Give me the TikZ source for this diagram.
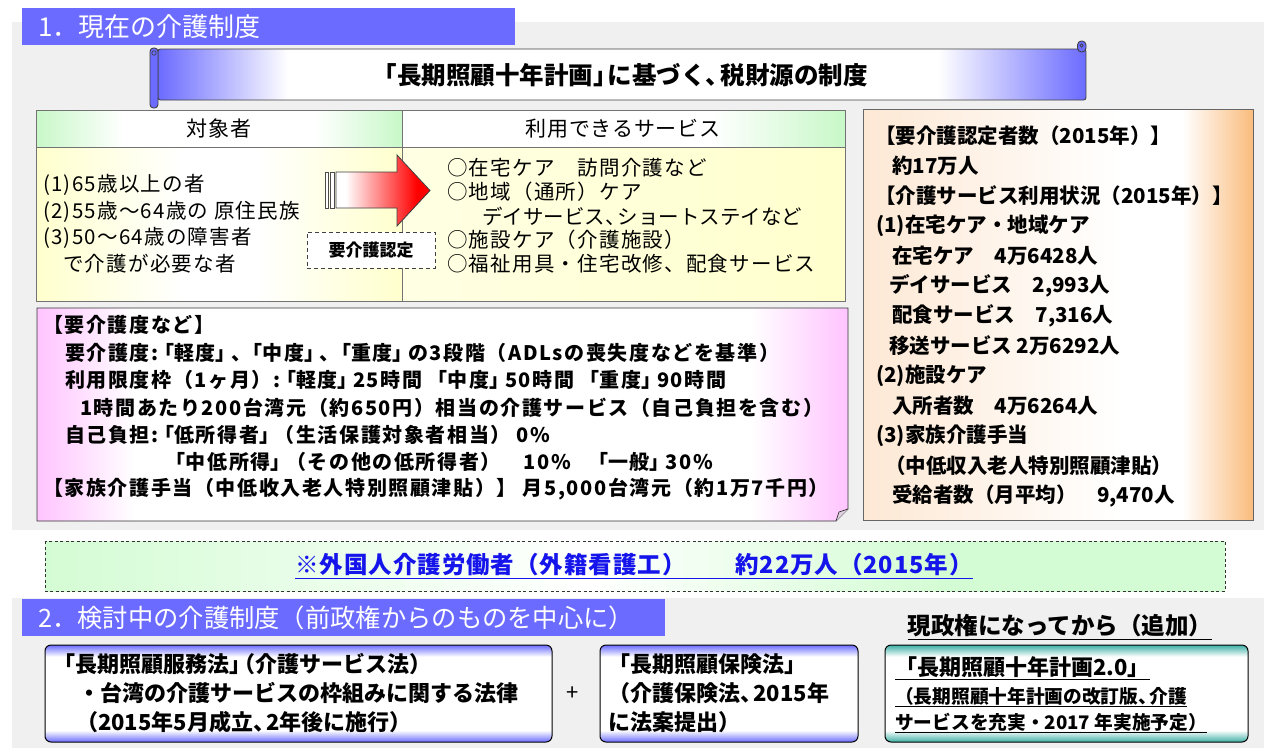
\documentclass[tikz,border=0pt]{standalone}
\usepackage{fontspec}
\setmainfont{Noto Sans CJK JP}
\newcommand\kL{\makebox[0.6em][r]{「}}
\newcommand\kR{\makebox[0.6em][l]{」}}
\newcommand\tk{\makebox[0.6em][l]{、}}
\newcommand\nk{\makebox[0.6em][c]{・}}
\newcommand\pkL{\makebox[0.78em][r]{「}}
\newcommand\pkR{\makebox[0.78em][l]{」}}
\newcommand\ptk{\makebox[0.78em][l]{、}}
\newcommand\kP{\makebox[0.6em][r]{（}}
\definecolor{hdrblue}{RGB}{107,107,255}
\definecolor{bggray}{RGB}{240,240,240}
\definecolor{hgreen}{RGB}{200,248,200}
\definecolor{byellow}{RGB}{255,255,205}
\definecolor{pinkc}{RGB}{255,196,255}
\definecolor{orng}{RGB}{250,188,125}
\definecolor{peach}{RGB}{253,232,212}
\definecolor{lgreen}{RGB}{212,252,212}
\definecolor{txtblue}{RGB}{20,20,235}
\definecolor{tealc}{RGB}{60,175,165}
\pgfdeclarehorizontalshading{scrollshade}{100bp}{color(0bp)=(hdrblue); color(25bp)=(hdrblue); color(32bp)=(white); color(67bp)=(white); color(75bp)=(hdrblue); color(100bp)=(hdrblue)}
\pgfdeclarehorizontalshading{greenhdr}{100bp}{color(0bp)=(hgreen); color(25bp)=(hgreen); color(37bp)=(white); color(63bp)=(white); color(75bp)=(hgreen); color(100bp)=(hgreen)}
\pgfdeclarehorizontalshading{greenhdrb}{100bp}{color(0bp)=(white); color(25bp)=(white); color(60bp)=(white); color(75bp)=(hgreen); color(100bp)=(hgreen)}
\pgfdeclarehorizontalshading{yelshade}{100bp}{color(0bp)=(byellow); color(25bp)=(byellow); color(45bp)=(white); color(55bp)=(white); color(75bp)=(byellow); color(100bp)=(byellow)}
\pgfdeclarehorizontalshading{pinkshade}{100bp}{color(0bp)=(pinkc); color(25bp)=(pinkc); color(31bp)=(white); color(69bp)=(white); color(75bp)=(pinkc); color(100bp)=(pinkc)}
\pgfdeclarehorizontalshading{orangeshade}{100bp}{color(0bp)=(peach); color(25bp)=(peach); color(58bp)=(white); color(66bp)=(white); color(75bp)=(orng); color(100bp)=(orng)}
\pgfdeclarehorizontalshading{greenbox}{100bp}{color(0bp)=(lgreen); color(25bp)=(lgreen); color(48bp)=(white); color(63bp)=(lgreen); color(75bp)=(lgreen); color(100bp)=(lgreen)}
\pgfdeclarehorizontalshading{arrowshade}{100bp}{color(0bp)=(white); color(25bp)=(white); color(30bp)=(white); color(68bp)=(red); color(75bp)=(red); color(100bp)=(red)}
\pgfdeclareverticalshading{boxblue}{100bp}{color(0bp)=(hdrblue); color(25bp)=(hdrblue); color(31bp)=(white); color(69bp)=(white); color(75bp)=(hdrblue); color(100bp)=(hdrblue)}
\pgfdeclareverticalshading{boxteal}{100bp}{color(0bp)=(tealc); color(25bp)=(tealc); color(31bp)=(white); color(69bp)=(white); color(75bp)=(tealc); color(100bp)=(tealc)}
\begin{document}
\begin{tikzpicture}[x=1pt,y=-1pt,
  hdrbox/.style={anchor=north west, fill=hdrblue, text=white, inner xsep=16pt, inner ysep=0pt, minimum height=37pt, align=left},
  lst/.style={anchor=west, inner sep=0pt, font=\fontsize{20.5}{24}\selectfont\addfontfeatures{LetterSpace=6}},
  lstn/.style={anchor=west, inner sep=0pt, font=\fontsize{20.5}{24}\selectfont},
  pk/.style={anchor=west, inner sep=0pt, font=\bfseries\fontsize{20}{24}\selectfont\addfontfeatures{LetterSpace=8}},
  orl/.style={anchor=west, inner sep=0pt, font=\bfseries\fontsize{20.5}{24}\selectfont},
  bx/.style={anchor=west, inner sep=0pt, font=\bfseries\fontsize{22}{24}\selectfont},
  bxc/.style={anchor=west, inner sep=0pt, font=\bfseries\fontsize{18.7}{22}\selectfont},
  thd/.style={inner sep=0pt, font=\fontsize{21}{24}\selectfont\addfontfeatures{LetterSpace=4}},
  edge75/.style={draw=black!75, line width=0.9pt}]
\useasboundingbox (0,0) rectangle (1264,748);
\fill[white] (0,0) rectangle (1264,748);
\fill[bggray] (12,22) rectangle (1264,530);
\fill[bggray] (12,598) rectangle (1264,748);
% section 1 header
\node[hdrbox, text width=461pt, font=\fontsize{26}{28}\selectfont] (h1) at (22,8) {1．現在の介護制度};
% scroll banner
\path[shade, shading=scrollshade, edge75, rounded corners=2.5pt] (158,49) rectangle (1086,100);
\draw[fill=hdrblue, edge75, rounded corners=4pt] (1077.5,41) rectangle (1086,52);
\draw[edge75, line width=0.7pt] (1081.5,45.5) circle (1.6);
\draw[fill=hdrblue, edge75, rounded corners=3.5pt] (150,48) rectangle (158,108);
\draw[edge75, line width=0.7pt] (154,53) circle (2.2);
\node[font=\bfseries\fontsize{24.5}{26}\selectfont, inner sep=0pt] (ban) at (625,75) {\kL 長期照顧十年計画\kR に基づく\tk 税財源の制度};
% table
\path[shade, shading=greenhdr] (36,110) rectangle (402,147);
\path[shade, shading=greenhdrb] (402,110) rectangle (845,147);
\path[shade, shading=yelshade] (36,147) rectangle (402,301);
\path[shade, left color=byellow!55!white, right color=byellow] (402,147) rectangle (845,301);
\draw[black!55, line width=0.9pt] (36,110) rectangle (845,301);
\draw[black!55, line width=0.9pt] (36,147) -- (845,147);
\draw[black!55, line width=0.9pt] (402,110) -- (402,301);
\node[thd] (th1) at (219,129) {対象者};
\node[thd] (th2) at (623,129) {利用できるサービス};
\foreach \n/\xx/\yy/\tt in {1/43/185/{(1)65歳以上の者}, 2/43/212/{(2)55歳～64歳の 原住民族}, 3/43/238/{(3)50～64歳の障害者}, 4/63/264/{で介護が必要な者}}
  \node[lst] (l\n) at (\xx,\yy) {\tt};
\foreach \n/\xx/\yy/\tt in {1/447/168/{○在宅ケア　訪問介護など}, 2/447/192/{○地域（通所）ケア}, 4/447/240/{○施設ケア（介護施設）}, 5/447/264/{○福祉用具・住宅改修、配食サービス}}
  \node[lst] (s\n) at (\xx,\yy) {\tt};
\node[lstn] (s3) at (482,216) {デイサービス\tk ショートステイなど};
% striped arrow
\draw[fill=white, draw=black!70, line width=0.7pt] (325,172) rectangle (328,208);
\draw[fill=white, draw=black!70, line width=0.7pt] (330,172) rectangle (334,208);
\path[shade, shading=arrowshade, draw=black!75, line width=0.8pt] (336,172) -- (397,172) -- (397,155) -- (430,190.5) -- (397,226) -- (397,208) -- (336,208) -- cycle;
\node[draw=black!75, dash pattern=on 4pt off 3pt, line width=0.8pt, fill=white, minimum width=128pt, minimum height=36pt, inner sep=0pt, font=\bfseries\fontsize{17}{20}\selectfont] (nin) at (371,250) {要介護認定};
% pink box
\path[shade, shading=pinkshade, draw=black!80, line width=0.9pt] (37,308) -- (848,308) -- (848,509) -- (836,521) -- (37,521) -- cycle;
\draw[fill=pinkc!70!black!40!white, draw=black!80, line width=0.7pt] (848,509) -- (839,512) -- (836,521);
\foreach \n/\xx/\yy/\tt in {1/43/325/{【要介護度など】}, 2/65/353/{要介護度:\pkL 軽度\pkR\ptk\pkL 中度\pkR\ptk\pkL 重度\pkR の3段階（ADLsの喪失度などを基準）}, 3/65/380/{利用限度枠（1ヶ月）:\pkL 軽度\pkR 25時間\hspace{0.5em}\pkL 中度\pkR 50時間\hspace{0.5em}\pkL 重度\pkR 90時間}, 4/80/408/{1時間あたり200台湾元（約650円）相当の介護サービス（自己負担を含む）}, 5/65/435/{自己負担:\pkL 低所得者\pkR（生活保護対象者相当） 0\%}, 6/170/462/{\pkL 中低所得\pkR（その他の低所得者）　10\%　\pkL 一般\pkR 30\%}, 7/43/489/{【家族介護手当（中低收入老人特別照顧津貼）】 月5,000台湾元（約1万7千円）}}
  \node[pk] (p\n) at (\xx,\yy) {\tt};
% orange box
\path[shade, shading=orangeshade, draw=black!60, line width=0.9pt] (863,109) rectangle (1253,520);
\foreach \n/\xx/\yy/\tt in {0/875/136/{【要介護認定者数（2015年）】}, 1/892/166/{約17万人}, 2/875/196/{【介護サービス利用状況（2015年）】}, 3/876/226/{(1)在宅ケア・地域ケア}, 4/892/256/{在宅ケア　4万6428人}, 5/889/286/{デイサービス　2,993人}, 6/892/316/{配食サービス　7,316人}, 7/889/346/{移送サービス 2万6292人}, 8/876/376/{(2)施設ケア}, 9/892/406/{入所者数　4万6264人}, 10/876/436/{(3)家族介護手当}, 11/885/466/{（中低収入老人特別照顧津貼）}, 12/892/496/{受給者数（月平均）　9,470人}}
  \node[orl] (o\n) at (\xx,\yy) {\tt};
% green dashed box
\path[shade, shading=greenbox] (45,541) rectangle (1225,591);
\draw[black!80, dash pattern=on 3pt off 2.5pt, line width=0.8pt] (45,541) rectangle (1225,591);
\node[font=\bfseries\fontsize{23.5}{25}\selectfont\addfontfeatures{LetterSpace=4}, text=txtblue, inner sep=0pt] (g) at (634,566) {\underline{※外国人介護労働者（外籍看護工）　　約22万人（2015年）}};
% section 2
\node[hdrbox, text width=611pt, font=\fontsize{25.3}{27}\selectfont] (h2) at (22,599) {2．検討中の介護制度（前政権からのものを中心に）};
\node[font=\bfseries\fontsize{23.5}{25}\selectfont, inner sep=0pt] (cur) at (1060,627) {\underline{現政権になってから（追加）}};
\path[shade, shading=boxblue, draw=black, line width=1pt, rounded corners=6pt] (45,645) rectangle (552,742);
\path[shade, shading=boxblue, draw=black, line width=1pt, rounded corners=6pt] (600,645) rectangle (858,742);
\path[shade, shading=boxteal, draw=black, line width=1pt, rounded corners=6pt] (885,645) rectangle (1248,742);
\node[bx] (a1) at (53,664) {「長期照顧服務法\kR\kP 介護サービス法）};
\node[bx] (a2) at (78,693) {・台湾の介護サービスの枠組みに関する法律};
\node[bx] (a3) at (76,722) {（2015年5月成立\tk 2年後に施行）};
\node[font=\fontsize{22}{24}\selectfont, inner sep=0pt] (plus) at (573,694) {+};
\node[bx] (b1) at (608,664) {「長期照顧保険法」};
\node[bx] (b2) at (608,693) {（介護保険法\tk 2015年};
\node[bx] (b3) at (608,722) {に法案提出）};
\node[bx] (c1) at (895,668) {\underline{「長期照顧十年計画2.0」}};
\node[bxc] (c2) at (895,697) {\underline{（長期照顧十年計画の改訂版\tk 介護}};
\node[bxc] (c3) at (895,723) {\underline{サービスを充実・2017 年実施予定）}};
\end{tikzpicture}
\end{document}
